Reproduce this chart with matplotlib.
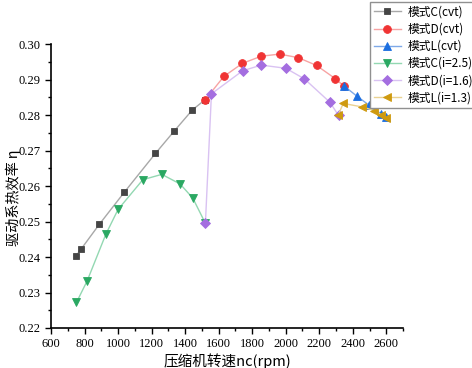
import matplotlib
matplotlib.use("Agg")
import matplotlib.pyplot as plt
from matplotlib.ticker import MultipleLocator, FormatStrFormatter

plt.rcParams['font.family'] = ['Noto Sans CJK SC', 'DejaVu Sans']

# Data
c_cvt_x = [749, 779, 888, 1038, 1223, 1333, 1444, 1521]
c_cvt_y = [0.2403, 0.2422, 0.2492, 0.2583, 0.2692, 0.2754, 0.2815, 0.2844]

d_cvt_x = [1521, 1631, 1742, 1854, 1963, 2075, 2184, 2295, 2347]
d_cvt_y = [0.2844, 0.2909, 0.2946, 0.2966, 0.2972, 0.2962, 0.2940, 0.2903, 0.2882]

l_cvt_x = [2346, 2423, 2497, 2567, 2599]
l_cvt_y = [0.2883, 0.2854, 0.2828, 0.2804, 0.2794]

c_i_x = [752, 816, 927, 1000, 1148, 1261, 1370, 1446, 1521]
c_i_y = [0.2272, 0.2333, 0.2464, 0.2534, 0.2618, 0.2633, 0.2606, 0.2566, 0.2495]

d_i_x = [1521, 1557, 1743, 1854, 2001, 2112, 2264, 2315]
d_i_y = [0.2495, 0.2860, 0.2925, 0.2941, 0.2932, 0.2902, 0.2836, 0.2799]

l_i_x = [2312, 2343, 2457, 2528, 2570, 2600]
l_i_y = [0.2799, 0.2833, 0.2823, 0.2813, 0.2801, 0.2793]

labels = ['模式C(cvt)', '模式D(cvt)', '模式L(cvt)', '模式C(i=2.5)', '模式D(i=1.6)', '模式L(i=1.3)']

fig = plt.figure(figsize=(4.72, 3.68), dpi=100)
ax = fig.add_axes([0.108, 0.1087, 0.746, 0.7713])

series = [
    (c_cvt_x, c_cvt_y, 's', '#454545', '#a8a8a8', 4.8),
    (d_cvt_x, d_cvt_y, 'o', '#f03434', '#f7a3a3', 5.6),
    (l_cvt_x, l_cvt_y, '^', '#1b6ee0', '#7fa9e8', 5.8),
    (c_i_x, c_i_y, 'v', '#2aa862', '#93d8b2', 5.8),
    (d_i_x, d_i_y, 'D', '#a46ee0', '#d9c2f2', 4.6),
    (l_i_x, l_i_y, '<', '#cf9a10', '#ead292', 5.8),
]
for (x, y, m, mc, lc, ms), lab in zip(series, labels):
    ax.plot(x, y, color=lc, lw=1.0, marker=m, markersize=ms,
            markerfacecolor=mc, markeredgecolor=mc, markeredgewidth=0.6, label=lab)

ax.set_xlim(600, 2700)
ax.set_ylim(0.22, 0.30)
ax.xaxis.set_major_locator(MultipleLocator(200))
ax.xaxis.set_minor_locator(MultipleLocator(100))
ax.yaxis.set_major_locator(MultipleLocator(0.01))
ax.yaxis.set_minor_locator(MultipleLocator(0.005))
ax.yaxis.set_major_formatter(FormatStrFormatter('%.2f'))

for s in ['top', 'right']:
    ax.spines[s].set_visible(False)
for s in ['left', 'bottom']:
    ax.spines[s].set_linewidth(1.2)
ax.tick_params(which='major', direction='out', length=4, width=1.0,
               labelsize=9, labelfontfamily='Liberation Serif')
ax.tick_params(which='minor', direction='out', length=2.5, width=1.0)

ax.set_xlabel('压缩机转速nc(rpm)', fontsize=10.5, labelpad=2)
ax.set_ylabel('驱动系热效率 η', fontsize=10.2)
ax.yaxis.set_label_coords(-0.086, 0.46)

leg = ax.legend(loc='upper left', bbox_to_anchor=(370/472, 1 - 2/368),
                bbox_transform=fig.transFigure, fontsize=8.5, frameon=True,
                fancybox=False, edgecolor='#909090', framealpha=1,
                handlelength=2.3, handletextpad=0.6, borderpad=0.3,
                labelspacing=0.35, borderaxespad=0)
leg.get_frame().set_linewidth(1.0)

fig.savefig('out.png', dpi=100)
